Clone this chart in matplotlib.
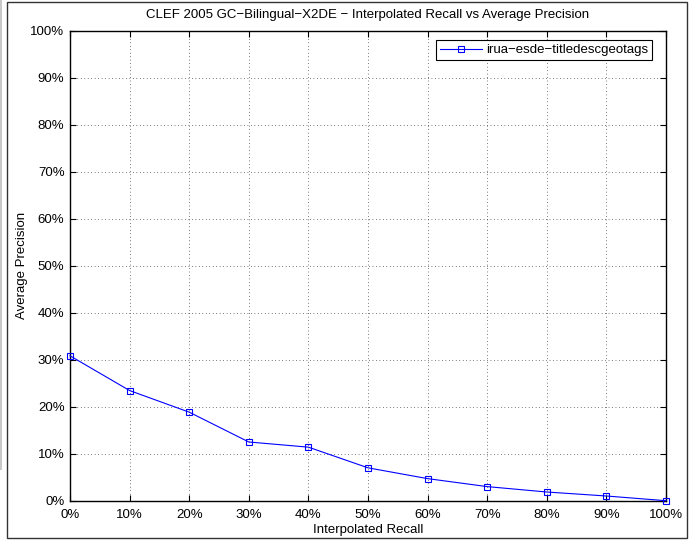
import matplotlib
matplotlib.use('Agg')
import matplotlib.pyplot as plt
from matplotlib.patches import Rectangle
from matplotlib.ticker import FuncFormatter

# interpolated recall levels and average precision (in %)
recall = [0, 10, 20, 30, 40, 50, 60, 70, 80, 90, 100]
precision = [30.85, 23.45, 18.85, 12.5, 11.4, 7.0, 4.7, 3.0, 1.85, 1.0, 0.0]
run_name = 'irua\u2212esde\u2212titledescgeotags'
ticks = [0, 10, 20, 30, 40, 50, 60, 70, 80, 90, 100]

plt.rcParams['font.family'] = ['Liberation Sans', 'DejaVu Sans']
plt.rcParams['font.size'] = 9.5

fig = plt.figure(figsize=(6.91, 5.4), dpi=100)
ax = fig.add_axes([70 / 691, 1 - 500.7 / 540, 596 / 691, 469.7 / 540])

# outer frame around the figure
fig.patches.append(Rectangle((7 / 691, 2 / 540), 680 / 691, 536 / 540, transform=fig.transFigure,
                             fill=False, edgecolor='#333333', linewidth=1.0))
fig.patches.append(Rectangle((0, 70 / 540), 2 / 691, 470 / 540, transform=fig.transFigure,
                             facecolor='#c8c8c8', edgecolor='none'))

ax.plot(recall, precision, color='blue', linewidth=0.8, marker='s', markersize=5,
        markerfacecolor='none', markeredgecolor='blue', markeredgewidth=0.8, label=run_name,
        clip_on=False, zorder=3)

ax.set_xlim(0, 100)
ax.set_ylim(0, 100)
ax.set_xticks(ticks)
ax.set_yticks(ticks)
pct = FuncFormatter(lambda v, p: '%d%%' % v)
ax.xaxis.set_major_formatter(pct)
ax.yaxis.set_major_formatter(pct)
ax.tick_params(direction='in', top=True, right=True, length=4, width=0.8, colors='black')
ax.tick_params(axis='x', pad=6)
ax.tick_params(axis='y', pad=4)
ax.grid(True, color='black', linestyle=(0, (1, 4)), linewidth=0.5)
for s in ax.spines.values():
    s.set_linewidth(1.0)

ax.set_title('CLEF 2005 GC\u2212Bilingual\u2212X2DE \u2212 Interpolated Recall vs Average Precision',
             fontsize=9.5, pad=9)
ax.set_xlabel('Interpolated Recall', labelpad=2)
ax.set_ylabel('Average Precision', labelpad=2)

leg = ax.legend(loc='upper right', bbox_to_anchor=(0.9765, 0.981), fancybox=False, framealpha=1,
                edgecolor='black', borderpad=0.3, handlelength=3.2, handletextpad=0.3,
                borderaxespad=0)
leg.get_frame().set_linewidth(0.8)

fig.savefig('out.png', dpi=100)
